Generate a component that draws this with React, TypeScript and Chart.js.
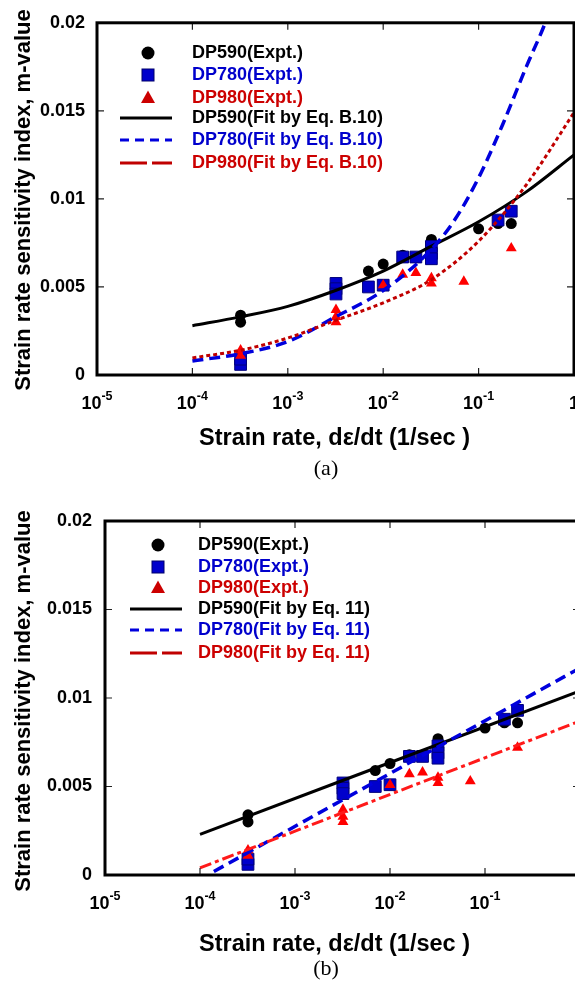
import React, { useEffect, useRef } from 'react';
import { Chart, registerables } from 'chart.js';

Chart.register(...registerables);

const SANS = '"Liberation Sans", Arial, Helvetica, sans-serif';
const SERIF = '"Liberation Serif", "Times New Roman", serif';

// ---------- axis ticks ----------
const xDecades = [1e-5, 1e-4, 1e-3, 1e-2, 1e-1, 1];
const xTickExponents = ['-5', '-4', '-3', '-2', '-1', ''];
const yTickValues = [0, 0.005, 0.01, 0.015, 0.02];
const yTickLabels = ['0', '0.005', '0.01', '0.015', '0.02'];

// ---------- experimental data (same in both panels) ----------
const dp590X = [3.2e-4, 3.2e-4, 0.007, 0.01, 0.016, 0.032, 0.1, 0.16, 0.22];
const dp590M = [0.0034, 0.003, 0.0059, 0.0063, 0.0068, 0.0077, 0.0083, 0.0086, 0.0086];

const dp780X = [3.2e-4, 3.2e-4, 3.2e-3, 3.2e-3, 3.2e-3, 0.007, 0.01, 0.016, 0.022, 0.032, 0.032, 0.032, 0.16, 0.22];
const dp780M = [0.0006, 0.0009, 0.0052, 0.0049, 0.0046, 0.005, 0.0051, 0.0067, 0.0067, 0.0073, 0.0069, 0.0066, 0.0088, 0.0093];

const dp980X = [3.2e-4, 3.2e-4, 3.2e-3, 3.2e-3, 3.2e-3, 0.01, 0.016, 0.022, 0.032, 0.032, 0.07, 0.22];
const dp980M = [0.0014, 0.0011, 0.0037, 0.0033, 0.003, 0.0051, 0.0057, 0.0058, 0.0055, 0.0052, 0.0053, 0.0072];

// ---------- panel (a): fits by Eq. B.10 ----------
const fitAX = [1e-4, 3.16e-4, 1e-3, 3.16e-3, 1e-2, 3.16e-2, 1e-1, 3.16e-1, 1];
const fitA590 = [0.0028, 0.0033, 0.0039, 0.0048, 0.0059, 0.0073, 0.0087, 0.0104, 0.0125];
const fitA980 = [0.00097, 0.0014, 0.0021, 0.0031, 0.0041, 0.0054, 0.0076, 0.0108, 0.0149];
const fitA780X = [1e-4, 3.16e-4, 1e-3, 3.16e-3, 1e-2, 3.16e-2, 5.6e-2, 0.1, 0.178, 0.316, 0.5, 0.6];
const fitA780 = [0.0008, 0.0012, 0.0019, 0.0033, 0.0048, 0.0071, 0.0088, 0.0112, 0.0142, 0.0175, 0.02, 0.0212];

// ---------- panel (b): fits by Eq. 11 ----------
const fitB590X = [1e-4, 1];
const fitB590 = [0.0023, 0.0104];
const fitB780X = [1.4e-4, 1];
const fitB780 = [0.0002, 0.0117];
const fitB980X = [1e-4, 1];
const fitB980 = [0.0004, 0.0087];

const labelsA = ['DP590(Expt.)', 'DP780(Expt.)', 'DP980(Expt.)', 'DP590(Fit by Eq. B.10)', 'DP780(Fit by Eq. B.10)', 'DP980(Fit by Eq. B.10)'];
const labelsB = ['DP590(Expt.)', 'DP780(Expt.)', 'DP980(Expt.)', 'DP590(Fit by Eq. 11)', 'DP780(Fit by Eq. 11)', 'DP980(Fit by Eq. 11)'];

const pts = (xs: number[], ys: number[]) => xs.map((x, i) => ({ x, y: ys[i] }));

const BLACK = '#000000';
const BLUE = '#0000cc';
const BLUE_LINE = '#0000dd';
const RED_MARK = '#ff0000';
const RED_TEXT = '#cc0000';

function buildDatasets(labels: string[], fits: any[]) {
  const sets: any[] = [
    {
      label: labels[0], data: pts(dp590X, dp590M), showLine: false,
      pointStyle: 'circle', pointRadius: 5.5, backgroundColor: BLACK, borderWidth: 0,
      legendKind: 'circle', legendColor: BLACK, textColor: BLACK,
    },
    {
      label: labels[1], data: pts(dp780X, dp780M), showLine: false,
      pointStyle: 'rect', pointRadius: 8.3, backgroundColor: BLUE, borderColor: '#00007a', borderWidth: 1,
      legendKind: 'square', legendColor: BLUE, textColor: BLUE,
    },
    {
      label: labels[2], data: pts(dp980X, dp980M), showLine: false,
      pointStyle: 'triangle', pointRadius: 6.3, backgroundColor: RED_MARK, borderWidth: 0,
      legendKind: 'triangle', legendColor: '#cc0000', textColor: RED_TEXT,
    },
  ];
  fits.forEach((f, i) => {
    sets.push({
      label: labels[3 + i], data: f.data, showLine: true, pointRadius: 0, pointHoverRadius: 0,
      borderColor: f.color, borderWidth: f.width, borderDash: f.dash, borderCapStyle: 'butt',
      cubicInterpolationMode: 'monotone', fill: false,
      legendKind: 'line', legendColor: f.legendColor, legendDash: f.legendDash, textColor: f.textColor,
    });
  });
  sets.forEach((s, i) => { s.order = 20 - i; });
  return sets;
}

const gnuplotDecor = {
  id: 'gnuplotDecor',
  afterDraw(chart: any, _args: any, o: any) {
    const ctx = chart.ctx as CanvasRenderingContext2D;
    const { left, right, top, bottom } = chart.chartArea;
    const xs = chart.scales.x;
    const ys = chart.scales.y;
    ctx.save();

    // inward ticks on all four sides
    ctx.strokeStyle = '#222';
    ctx.lineWidth = 1.2;
    const tl = 7;
    xDecades.forEach((v) => {
      const px = xs.getPixelForValue(v);
      ctx.beginPath();
      ctx.moveTo(px, bottom); ctx.lineTo(px, bottom - tl);
      ctx.moveTo(px, top); ctx.lineTo(px, top + tl);
      ctx.stroke();
    });
    yTickValues.forEach((v) => {
      const py = ys.getPixelForValue(v);
      ctx.beginPath();
      ctx.moveTo(left, py); ctx.lineTo(left + tl, py);
      ctx.moveTo(right, py); ctx.lineTo(right - tl, py);
      ctx.stroke();
    });

    // frame
    ctx.strokeStyle = '#000';
    ctx.lineWidth = 3;
    ctx.strokeRect(left, top, right - left, bottom - top);

    // x tick labels: 10^n
    ctx.fillStyle = '#000';
    ctx.textBaseline = 'alphabetic';
    ctx.textAlign = 'left';
    const mainFont = `bold ${o.tickSize}px ${SANS}`;
    const supFont = `bold ${o.supSize}px ${SANS}`;
    xDecades.forEach((v, i) => {
      const px = xs.getPixelForValue(v);
      const base = xTickExponents[i] ? '10' : '1';
      ctx.font = mainFont;
      const w1 = ctx.measureText(base).width;
      ctx.font = supFont;
      const w2 = xTickExponents[i] ? ctx.measureText(xTickExponents[i]).width : 0;
      const x0 = px - (w1 + w2) / 2;
      const by = bottom + o.tickBase;
      ctx.font = mainFont;
      ctx.fillText(base, x0, by);
      if (xTickExponents[i]) {
        ctx.font = supFont;
        ctx.fillText(xTickExponents[i], x0 + w1, by - o.supRise);
      }
    });

    // axis titles
    ctx.font = `bold ${o.xTitleSize}px ${SANS}`;
    ctx.textAlign = 'center';
    ctx.fillText(o.xTitle, o.xTitleX, o.xTitleY);

    ctx.save();
    ctx.translate(o.yTitleX, o.yTitleY);
    ctx.rotate(-Math.PI / 2);
    ctx.font = `bold ${o.yTitleSize}px ${SANS}`;
    ctx.textBaseline = 'middle';
    ctx.fillText(o.yTitle, 0, 0);
    ctx.restore();

    // caption
    ctx.font = `${o.captionSize}px ${SERIF}`;
    ctx.textAlign = 'center';
    ctx.textBaseline = 'alphabetic';
    ctx.fillText(o.caption, o.captionX, o.captionY);

    // legend
    ctx.textAlign = 'left';
    ctx.textBaseline = 'middle';
    ctx.font = `bold ${o.legendSize}px ${SANS}`;
    chart.data.datasets.forEach((ds: any, i: number) => {
      const y = o.legendRows[i];
      const cx = o.legendSymX;
      ctx.fillStyle = ds.legendColor;
      ctx.strokeStyle = ds.legendColor;
      if (ds.legendKind === 'circle') {
        ctx.beginPath(); ctx.arc(cx, y, 6.5, 0, Math.PI * 2); ctx.fill();
      } else if (ds.legendKind === 'square') {
        ctx.fillRect(cx - 6, y - 6, 12, 12);
        ctx.lineWidth = 1; ctx.strokeStyle = '#00006a';
        ctx.strokeRect(cx - 6, y - 6, 12, 12);
      } else if (ds.legendKind === 'triangle') {
        ctx.beginPath();
        ctx.moveTo(cx, y - 7.5); ctx.lineTo(cx + 7, y + 5); ctx.lineTo(cx - 7, y + 5);
        ctx.closePath(); ctx.fill();
      } else {
        ctx.lineWidth = 3;
        ctx.setLineDash(ds.legendDash || []);
        ctx.beginPath(); ctx.moveTo(o.legendLineX0, y); ctx.lineTo(o.legendLineX1, y); ctx.stroke();
        ctx.setLineDash([]);
      }
      ctx.fillStyle = ds.textColor;
      ctx.fillText(ds.label, o.legendTextX, y);
    });

    ctx.restore();
  },
};

function makeConfig(datasets: any[], spec: any) {
  return {
    type: 'scatter',
    data: { datasets },
    options: {
      animation: false,
      responsive: false,
      devicePixelRatio: 1,
      events: [],
      layout: { padding: { left: 0, top: spec.top, right: spec.rightPad, bottom: 0 } },
      plugins: {
        legend: { display: false },
        tooltip: { enabled: false },
        gnuplotDecor: spec.decor,
      },
      scales: {
        x: {
          type: 'logarithmic', min: 1e-5, max: 1,
          grid: { display: false, drawTicks: false },
          border: { display: false },
          ticks: { display: false },
          afterBuildTicks: (s: any) => { s.ticks = xDecades.map((v) => ({ value: v })); },
          afterFit: (s: any) => { s.height = spec.xAxisH; },
        },
        y: {
          type: 'linear', min: 0, max: 0.02,
          grid: { display: false, drawTicks: false },
          border: { display: false },
          ticks: {
            padding: spec.yPad,
            color: '#000',
            font: { family: SANS, size: 18, weight: 'bold' },
            callback: (v: number) => {
              const k = yTickValues.findIndex((t) => Math.abs(t - v) < 1e-9);
              return k >= 0 ? yTickLabels[k] : '';
            },
          },
          afterBuildTicks: (s: any) => { s.ticks = yTickValues.map((v) => ({ value: v })); },
          afterFit: (s: any) => { s.width = spec.yAxisW; },
        },
      },
    },
    plugins: [gnuplotDecor],
  };
}

const X_TITLE = 'Strain rate, d\u03b5/dt (1/sec )';
const Y_TITLE = 'Strain rate sensitivity index, m-value';

export default function App() {
  const refA = useRef<HTMLCanvasElement>(null);
  const refB = useRef<HTMLCanvasElement>(null);

  useEffect(() => {
    const dsA = buildDatasets(labelsA, [
      { data: pts(fitAX, fitA590), color: BLACK, width: 3, dash: [], legendColor: BLACK, legendDash: [], textColor: BLACK },
      { data: pts(fitA780X, fitA780), color: BLUE_LINE, width: 3.5, dash: [11, 6], legendColor: BLUE_LINE, legendDash: [9, 6], textColor: BLUE },
      { data: pts(fitAX, fitA980), color: '#c00000', width: 3, dash: [4, 3], legendColor: '#c00000', legendDash: [27, 5, 20, 5], textColor: RED_TEXT },
    ]);
    const dsB = buildDatasets(labelsB, [
      { data: pts(fitB590X, fitB590), color: BLACK, width: 3, dash: [], legendColor: BLACK, legendDash: [], textColor: BLACK },
      { data: pts(fitB780X, fitB780), color: BLUE_LINE, width: 3.5, dash: [11, 6], legendColor: BLUE_LINE, legendDash: [9, 6], textColor: BLUE },
      { data: pts(fitB980X, fitB980), color: '#ff1a1a', width: 3, dash: [12, 4, 4, 4], legendColor: '#c00000', legendDash: [27, 5, 20, 5], textColor: RED_TEXT },
    ]);

    const common = {
      tickSize: 18, supSize: 12.5, supRise: 9, tickBase: 34,
      xTitle: X_TITLE, xTitleSize: 23.5, yTitle: Y_TITLE, yTitleSize: 22,
      legendSize: 18, captionSize: 22,
    };

    const chartA = new Chart(refA.current as any, makeConfig(dsA, {
      top: 17, rightPad: 26, xAxisH: 115, yAxisW: 97, yPad: 12,
      decor: {
        ...common,
        xTitleX: 334.5, xTitleY: 445, yTitleX: 24, yTitleY: 200,
        caption: '(a)', captionX: 326, captionY: 475,
        legendRows: [53, 75, 98, 118, 140, 163], legendSymX: 148, legendTextX: 192,
        legendLineX0: 120, legendLineX1: 172,
      },
    }) as any);

    const chartB = new Chart(refB.current as any, makeConfig(dsB, {
      top: 31, rightPad: 20, xAxisH: 111, yAxisW: 105, yPad: 13,
      decor: {
        ...common,
        xTitleX: 334.5, xTitleY: 461, yTitleX: 24, yTitleY: 211,
        caption: '(b)', captionX: 326, captionY: 485,
        legendRows: [55, 77, 98, 119, 140, 163], legendSymX: 158, legendTextX: 198,
        legendLineX0: 130, legendLineX1: 182,
      },
    }) as any);

    return () => { chartA.destroy(); chartB.destroy(); };
  }, []);

  return (
    <div style={{ position: 'absolute', left: 0, top: 0, width: 575, height: 986, overflow: 'hidden', background: '#fff' }}>
      <canvas ref={refA} width={600} height={490} style={{ position: 'absolute', left: 0, top: 0, width: 600, height: 490 }} />
      <canvas ref={refB} width={600} height={496} style={{ position: 'absolute', left: 0, top: 490, width: 600, height: 496 }} />
    </div>
  );
}
